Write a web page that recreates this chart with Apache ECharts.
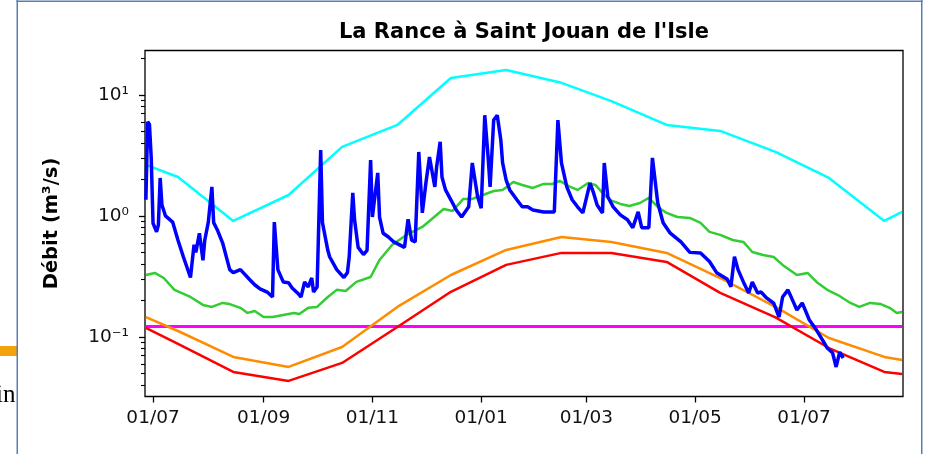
<!DOCTYPE html>
<html>
<head>
<meta charset="utf-8">
<script src="https://cdn.jsdelivr.net/npm/echarts@6/dist/echarts.min.js"></script>
<style>
html,body{margin:0;padding:0;background:#fff}
#myChart{width:926px;height:454px}
</style>
</head>
<body>
<div id="myChart"></div>
<script>
// debit observe : jours depuis le 01/07/2022, m3/s
var obsDays = [-4,-3,-2,-1,0,2,3,4,5,7,8,11,14,17,21,23,24,26,28,29,31,
	33,34,36,39,43,45,49,54,57,60,64,67,68,70,73,76,78,81,83,85,87,89,90,92,
	94,95,98,99,103,107,109,110,112,113,115,118,120,122,123,126,127,129,132,135,138,141,143,145,147,149,151,
	153,155,157,158,159,161,162,164,167,170,173,177,179,182,184,186,188,189,191,193,195,196,198,200,204,207,210,213,
	219,225,227,229,232,235,238,241,245,247,249,252,253,255,258,262,266,269,272,274,278,280,283,286,
	290,296,301,307,312,316,322,324,326,328,331,334,336,339,341,344,348,351,353,356,359,361,364,368,372,376,378,381,383,385,387];
var obsFlow = [1.36,6.0,5.7,3.0,0.87,0.74,0.84,2.06,1.23,1.0,1.02,0.89,0.63,0.46,0.31,0.58,0.50,0.72,0.43,0.63,0.89,
	1.74,0.88,0.77,0.60,0.36,0.34,0.36,0.30,0.27,0.25,0.235,0.214,0.89,0.36,0.285,0.28,0.254,0.231,0.214,0.285,0.259,0.307,0.235,0.259,
	3.5,0.88,0.52,0.46,0.36,0.31,0.34,0.46,1.55,0.93,0.55,0.48,0.52,2.9,0.98,2.27,0.98,0.72,0.67,0.61,0.58,0.55,0.94,0.63,0.61,3.38,1.06,
	1.87,3.07,2.1,1.74,2.54,4.1,2.1,1.64,1.36,1.12,0.98,1.19,2.74,1.44,1.16,6.8,2.9,1.74,6.2,6.8,4.25,2.74,1.98,1.64,1.36,1.19,1.19,1.12,
	1.08,1.08,6.2,2.74,1.74,1.36,1.19,1.06,1.87,1.55,1.23,1.06,2.74,1.44,1.19,1.02,0.93,0.80,1.08,0.80,0.80,3.02,1.28,0.88,
	0.72,0.61,0.50,0.495,0.42,0.34,0.30,0.26,0.46,0.36,0.285,0.231,0.285,0.231,0.235,0.21,0.19,0.146,0.214,0.245,0.195,0.167,0.191,0.138,0.114,0.091,0.081,0.074,0.0565,0.075,0.067];

// mediane interannuelle (hebdo), jours depuis le 01/07/2022
var medDays = [-4,1,6,12,21,28,33,39,43,49,53,57,62,67,73,79,82,87,92,98,103,108,114,122,127,134,142,151,163,168,174,179,185,191,196,202,207,213,219,224,228,234,238,244,248,252,256,262,267,273,278,283,288,294,301,307,312,318,325,331,336,342,348,353,361,367,372,378,384,391,396,402,408,413,417,420];
var medFlow = [0.325,0.338,0.307,0.245,0.214,0.184,0.177,0.191,0.187,0.174,0.158,0.164,0.146,0.146,0.152,0.158,0.155,0.174,0.177,0.214,0.245,0.240,0.285,0.313,0.433,0.576,0.697,0.811,1.143,1.100,1.382,1.382,1.491,1.609,1.640,1.910,1.804,1.704,1.839,1.839,1.947,1.736,1.640,1.874,1.804,1.549,1.356,1.257,1.210,1.280,1.409,1.187,1.059,0.981,0.963,0.875,0.738,0.697,0.633,0.610,0.504,0.476,0.458,0.394,0.325,0.338,0.285,0.245,0.222,0.191,0.177,0.191,0.187,0.174,0.158,0.161];

// valeurs mensuelles
var climDates = ['2022-06-27','2022-07-15','2022-08-15','2022-09-15','2022-10-15','2022-11-15','2022-12-15','2023-01-15','2023-02-15','2023-03-15','2023-04-15','2023-05-15','2023-06-15','2023-07-15','2023-08-15','2023-08-25'];
var qHaut = [2.64,2.10,0.91,1.49,3.72,5.65,13.8,16.1,12.6,8.9,5.65,5.04,3.38,2.06,0.91,1.08];
var qBas = [0.146,0.112,0.0684,0.0565,0.0826,0.177,0.325,0.524,0.67,0.61,0.495,0.307,0.177,0.098,0.0684,0.0645];
var qTresBas = [0.119,0.0875,0.0514,0.0433,0.061,0.121,0.236,0.394,0.495,0.495,0.417,0.231,0.145,0.081,0.0514,0.0494];

var seuil = 0.122;

var xTickDates = ['2022-07-01','2022-09-01','2022-11-01','2023-01-01','2023-03-01','2023-05-01','2023-07-01'];
var yTicks = [0.1, 1, 10];
var yTickLabels = ['10\u207B\u00B9', '10\u2070', '10\u00B9'];
var yMinor = [0.04,0.05,0.06,0.07,0.08,0.09,0.2,0.3,0.4,0.5,0.6,0.7,0.8,0.9,2,3,4,5,6,7,8,9,20];

function jour(d) {
	return new Date(2022, 6, 1 + d).getTime();
}
function dateMs(s) {
	var p = s.split('-');
	return new Date(+p[0], +p[1] - 1, +p[2]).getTime();
}
function pad(n) {
	return (n < 10 ? '0' : '') + n;
}
function paires(xs, ys, f) {
	return xs.map(function (x, i) { return [f(x), ys[i]]; });
}

var font = 'DejaVu Sans';
var ligne = function (col, w) {
	return { type: 'line', showSymbol: false, symbol: 'none', color: col, lineStyle: { color: col, width: w }, animation: false, silent: true };
};

var sCyan = ligne('#00ffff', 2.5); sCyan.data = paires(climDates, qHaut, dateMs);
var sVert = ligne('#32cd32', 2.5); sVert.data = paires(medDays, medFlow, jour);
var sOrange = ligne('#ff8c00', 2.5); sOrange.data = paires(climDates, qBas, dateMs);
var sRouge = ligne('#ff0000', 2.5); sRouge.data = paires(climDates, qTresBas, dateMs);
var sSeuil = ligne('#ff00ff', 3); sSeuil.data = [[jour(-4), seuil], [jour(420), seuil]];
var sObs = ligne('#0000ff', 3.5); sObs.data = paires(obsDays, obsFlow, jour);

var xTicks = xTickDates.map(dateMs);
var yMin = 0.0322, yMax = 23.3;

var option = {
	backgroundColor: '#fff',
	animation: false,
	title: {
		text: "La Rance \u00e0 Saint Jouan de l'Isle",
		left: 524, top: 22, padding: 0,
		textAlign: 'center',
		textStyle: { fontFamily: font, fontSize: 21, fontWeight: 'bold', color: '#000' }
	},
	grid: {
		left: 145, right: 23, top: 50.5, bottom: 57.5,
		containLabel: false, outerBoundsMode: 'none',
		show: true, borderColor: '#000', borderWidth: 1.3, backgroundColor: 'transparent'
	},
	xAxis: {
		type: 'value',
		min: new Date(2022, 5, 26, 12).getTime(),
		max: new Date(2023, 7, 25, 12).getTime(),
		splitLine: { show: false },
		axisLine: { show: false },
		axisTick: { show: true, inside: false, length: 6, lineStyle: { color: '#000', width: 1.3 }, customValues: xTicks },
		axisLabel: {
			customValues: xTicks, margin: 12,
			fontFamily: font, fontSize: 18.5, color: '#111',
			formatter: function (v) { var d = new Date(v); return pad(d.getDate()) + '/' + pad(d.getMonth() + 1); }
		}
	},
	yAxis: [{
		type: 'log', logBase: 10, min: yMin, max: yMax, position: 'left',
		name: 'D\u00e9bit (m\u00b3/s)', nameLocation: 'middle', nameGap: 83, nameRotate: 90,
		nameTextStyle: { fontFamily: font, fontSize: 19.5, fontWeight: 'bold', color: '#000' },
		splitLine: { show: false },
		axisLine: { show: false },
		axisTick: { show: true, length: 6, lineStyle: { color: '#000', width: 1.3 }, customValues: yTicks },
		axisLabel: {
			customValues: yTicks, margin: 16,
			fontFamily: font, fontSize: 18.5, color: '#111',
			formatter: function (v) {
				for (var i = 0; i < yTicks.length; i++) {
					if (Math.abs(v - yTicks[i]) < 1e-6 * yTicks[i]) return yTickLabels[i];
				}
				return '';
			}
		}
	}, {
		type: 'log', logBase: 10, min: yMin, max: yMax, position: 'left',
		splitLine: { show: false },
		axisLine: { show: false },
		axisTick: { show: true, length: 4, lineStyle: { color: '#000', width: 1.1 }, customValues: yMinor },
		axisLabel: { show: false }
	}],
	graphic: [
		{ type: 'text', left: -4, top: 383, style: { text: 'in', font: '25px "Liberation Serif"', fill: '#000' } },
		{ type: 'rect', shape: { x: 18, y: 370, width: 60, height: 50 }, style: { fill: '#fff' } },
		{ type: 'rect', shape: { x: 0, y: 346, width: 17, height: 10 }, style: { fill: '#f2a20c' } },
		{ type: 'rect', shape: { x: 16.5, y: 0, width: 1.5, height: 454 }, style: { fill: '#5a7db5' } },
		{ type: 'rect', shape: { x: 16.5, y: 0.5, width: 906, height: 1.5 }, style: { fill: '#5a7db5' } },
		{ type: 'rect', shape: { x: 921, y: 0, width: 1.5, height: 454 }, style: { fill: '#5a7db5' } }
	],
	series: [sCyan, sVert, sSeuil, sOrange, sRouge, sObs]
};

var myChart = echarts.init(document.getElementById('myChart'), null, { renderer: 'canvas' });
myChart.setOption(option);
</script>
</body>
</html>
